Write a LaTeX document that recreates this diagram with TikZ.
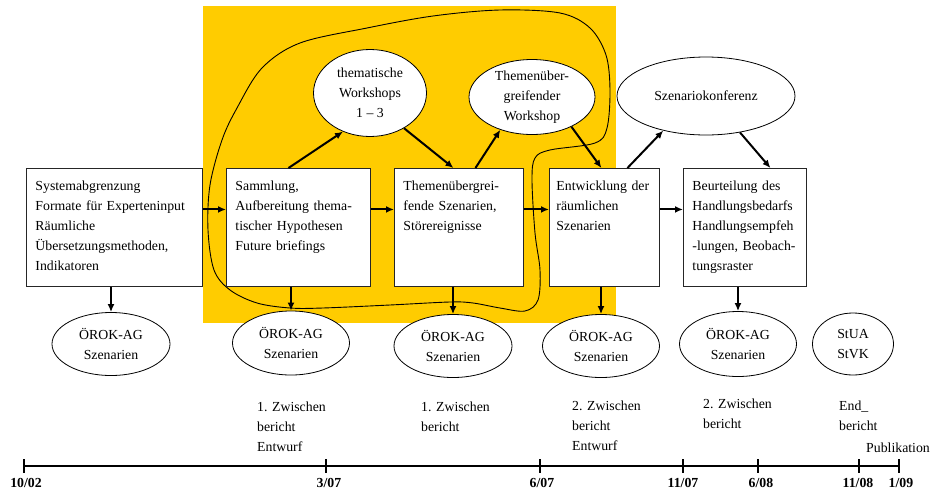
\documentclass[tikz,border=0pt]{standalone}
\usepackage{fontspec}
\setmainfont{Liberation Serif}
\usetikzlibrary{arrows.meta, shapes.geometric, positioning}
\definecolor{gelb}{RGB}{255,204,0}
\frenchspacing

\begin{document}
\begin{tikzpicture}
    [
        x = 1pt, y = -1pt,
        font = \fontsize{13.8pt}{20pt}\selectfont,
        stage/.style = {
            rectangle, draw=black!85, line width=0.9pt, fill=white,
            anchor=north west, align=left, inner xsep=9pt, inner ysep=12pt,
            text height=10pt, text depth=84pt
            },
        meeting/.style = {
            ellipse, draw, line width=0.8pt, fill=white,
            inner sep=0pt, align=center
            },
        flow/.style = {
            line width=2pt, -{Latex[length=8pt, width=7pt]}
            },
        note/.style = {
            anchor=base west, align=left, inner sep=0pt, text width=80pt
            },
        date/.style = {
            anchor=base, inner sep=0pt,
            font=\fontsize{13.8pt}{20pt}\selectfont\bfseries
            },
    ]
    \useasboundingbox (0,0) rectangle (932,493);

    % Projektphase
    \fill[gelb] (203,6) rectangle (616,323);
    \draw[line width=0.9pt] plot[smooth cycle, tension=0.55] coordinates {
        (300,43) (367,28) (433,16) (500,10) (560,13) (590,28) (606,55)
        (610,90) (607,128) (595,143) (550,150) (535,158) (532,180)
        (535,233) (540,270) (538,300) (525,311) (500,308) (473,303)
        (450,302) (390,305) (323,308) (290,308) (257,303) (230,290)
        (214,270) (208,230) (210,185) (222,140) (237,108) (262,68)};

    % Arbeitsschritte
    \node[stage, text width=158pt] (abgrenzung) at (26,168)
        {Systemabgrenzung\\Formate für Experteninput\\Räumliche\\Übersetzungsmethoden,\\Indikatoren};
    \node[stage, text width=126pt] (sammlung) at (226,168)
        {Sammlung,\\Aufbereitung thema-\\tischer Hypothesen\\Future briefings};
    \node[stage, text width=111pt] (themen) at (394,168)
        {Themenübergrei-\\fende Szenarien,\\Störereignisse};
    \node[stage, text width=96pt, inner xsep=7pt] (entwicklung) at (549,168)
        {Entwicklung der\\räumlichen\\Szenarien};
    \node[stage, text width=105pt] (beurteilung) at (683,168)
        {Beurteilung des\\Handlungsbedarfs\\Handlungsempfeh\\-lungen, Beobach-\\tungsraster};

    % Workshops
    \node[meeting, minimum width=113pt, minimum height=87pt] (workshops) at (370,93)
        {thematische\\Workshops\\1 -- 3};
    \node[meeting, minimum width=126pt, minimum height=75pt] (uebergreifend) at (532,97)
        {Themenüber-\\greifender\\Workshop};
    \node[meeting, minimum width=178pt, minimum height=78pt] (konferenz) at (706,96)
        {Szenariokonferenz};

    % Begleitgruppen
    \node[meeting, minimum width=118pt, minimum height=63pt] (orok1) at (111,344) {ÖROK-AG\\Szenarien};
    \node[meeting, minimum width=117pt, minimum height=64pt] (orok2) at (291,343) {ÖROK-AG\\Szenarien};
    \node[meeting, minimum width=118pt, minimum height=63pt] (orok3) at (453,346) {ÖROK-AG\\Szenarien};
    \node[meeting, minimum width=117pt, minimum height=63pt] (orok4) at (601,346) {ÖROK-AG\\Szenarien};
    \node[meeting, minimum width=117pt, minimum height=65pt] (orok5) at (738,344) {ÖROK-AG\\Szenarien};
    \node[meeting, minimum width=81pt, minimum height=62pt] (stua) at (853,344) {StUA\\StVK};

    % Ablauf
    \draw[flow] ([yshift=18pt]abgrenzung.east) -- ([yshift=18pt]sammlung.west);
    \draw[flow] ([yshift=18pt]sammlung.east) -- ([yshift=18pt]themen.west);
    \draw[flow] ([yshift=18pt]themen.east) -- ([yshift=18pt]entwicklung.west);
    \draw[flow] ([yshift=18pt]entwicklung.east) -- ([yshift=18pt]beurteilung.west);

    \draw[flow] ([xshift=-10pt]sammlung.north) -- (workshops.235);
    \draw[flow] (workshops.314) -- ([xshift=-5.5pt]themen.north);
    \draw[flow] ([xshift=16.5pt]themen.north) -- (uebergreifend.226);
    \draw[flow] (uebergreifend.323) -- ([xshift=-3pt]entwicklung.north);
    \draw[flow] ([xshift=23pt]entwicklung.north) -- (konferenz.219);
    \draw[flow] (konferenz.313) -- ([xshift=25.5pt]beurteilung.north);

    \draw[flow] (abgrenzung.south -| orok1.north) -- (orok1.north);
    \draw[flow] (sammlung.south -| orok2.north) -- (orok2.north);
    \draw[flow] (themen.south -| orok3.north) -- (orok3.north);
    \draw[flow] (entwicklung.south -| orok4.north) -- (orok4.north);
    \draw[flow] (beurteilung.south -| orok5.north) -- (orok5.north);

    % Berichte
    \node[note] (zwischen1e) at (257,411) {1. Zwischen\\bericht\\Entwurf};
    \node[note] (zwischen1) at (421,411) {1. Zwischen\\bericht};
    \node[note] (zwischen2e) at (572,410) {2. Zwischen\\bericht\\Entwurf};
    \node[note] (zwischen2) at (703,408) {2. Zwischen\\bericht};
    \node[note] (endbericht) at (839,410) {End\_\\bericht};
    \node[anchor=base west, inner sep=0pt] (publikation) at (866,452) {Publikation};

    % Zeitachse
    \draw[line width=1.3pt] (24,466) -- (899,466);
    \foreach \x in {24,326,540,683,758,859,899}
        \draw[line width=1.3pt] (\x,459) -- (\x,473);
    \node[date] (d1002) at (26,487) {10/02};
    \node[date] (d0307) at (329,487) {3/07};
    \node[date] (d0607) at (542,487) {6/07};
    \node[date] (d1107) at (683,487) {11/07};
    \node[date] (d0608) at (761,487) {6/08};
    \node[date] (d1108) at (858,487) {11/08};
    \node[date] (d0109) at (901,487) {1/09};
\end{tikzpicture}
\end{document}
